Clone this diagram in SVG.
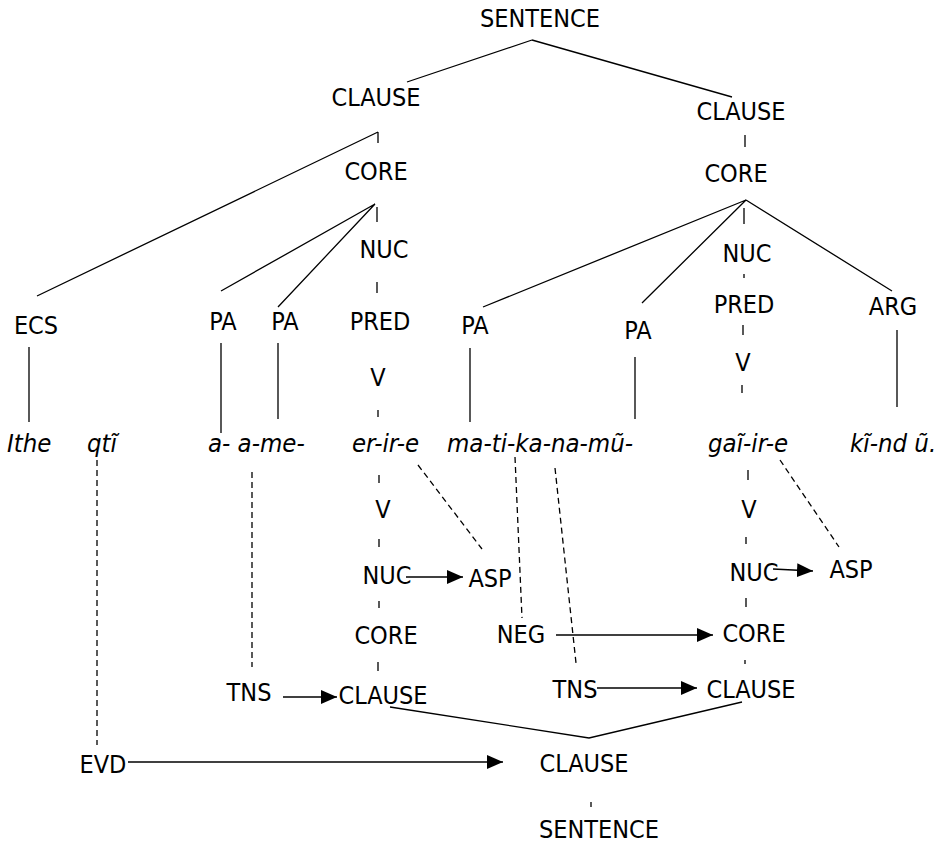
<svg xmlns="http://www.w3.org/2000/svg" width="945" height="847" viewBox="0 0 945 847">
  <defs>
    <style>
      .lbl { font-family: "DejaVu Sans Condensed", "DejaVu Sans", sans-serif; font-size: 25px; fill: #000; text-anchor: middle; }
      .word { font-family: "DejaVu Sans Condensed", "DejaVu Sans", sans-serif; font-style: italic; font-size: 25.5px; fill: #000; }
      .edge { stroke: #000; stroke-width: 1.3; fill: none; }
      .dash { stroke: #000; stroke-width: 1.3; fill: none; stroke-dasharray: 6 4; }
      .arrow { stroke: #000; stroke-width: 1.3; fill: none; marker-end: url(#head); }
    </style>
    <marker id="head" markerUnits="userSpaceOnUse" markerWidth="17" markerHeight="14" refX="16" refY="7" orient="auto">
      <path d="M0,0 L16,7 L0,14 Z" fill="#000"/>
    </marker>
  </defs>
  <rect width="945" height="847" fill="#fff"/>

  <!-- tree edges, operator links and morpheme links -->
  <g id="connectors">
    <!-- upper sentence tree -->
    <path class="edge" d="M532,40 L407,82 M532,40 L732,97"/>
    <path class="edge" d="M378,132 L37,296 M378,132 V143"/>
    <path class="edge" d="M745,135 V147"/>
    <path class="edge" d="M375,204 L221,291 M375,204 L278,307 M377,207 V222"/>
    <path class="edge" d="M377,282 V293"/>
    <path class="edge" d="M746,200 L483,307 M746,200 L642,303 M746,200 L892,291 M744,208 V224"/>
    <path class="edge" d="M744,274 V278 M743,325 V335 M742,385 V393"/>
    <path class="edge" d="M378,410 V417"/>
    <path class="edge" d="M29,347 V422 M221,343 V433 M278,343 V419"/>
    <path class="edge" d="M470,348 V422 M635,357 V419 M897,330 V407"/>

    <!-- morpheme links to operators -->
    <path class="dash" d="M418,465 L482,549"/>
    <path class="dash" d="M515,457 L522,618"/>
    <path class="dash" d="M555,468 L576,663"/>
    <path class="dash" d="M780,460 L839,547"/>
    <path class="dash" d="M252,472 V667"/>
    <path class="dash" d="M97,460 V745"/>

    <!-- operator projection, left verb -->
    <path class="edge" d="M379,475 V483 M379,539 V547 M379,601 V608 M378,662 V671"/>
    <!-- operator projection, right verb -->
    <path class="edge" d="M748,470 V480 M746,537 V544 M746,598 V607 M745,660 V664"/>
    <path class="edge" d="M591,802 V807"/>

    <!-- clause linkage -->
    <path class="edge" d="M390,707 L589,738 L742,702"/>

    <!-- operator arrows -->
    <path class="arrow" d="M406,577 H463"/>
    <path class="arrow" d="M773,569 L813,571"/>
    <path class="arrow" d="M556,635 H713"/>
    <path class="arrow" d="M283,697 H337"/>
    <path class="arrow" d="M597,688 H697"/>
    <path class="arrow" d="M128,762 H503"/>
  </g>

  <!-- constituent projection -->
  <g id="sentence-top"><text class="lbl" x="540" y="27">SENTENCE</text></g>
  <g id="clause-1"><text class="lbl" x="376" y="106">CLAUSE</text></g>
  <g id="clause-2"><text class="lbl" x="741" y="120">CLAUSE</text></g>
  <g id="core-1"><text class="lbl" x="376" y="180">CORE</text></g>
  <g id="core-2"><text class="lbl" x="736" y="182">CORE</text></g>
  <g id="nuc-1"><text class="lbl" x="384" y="258">NUC</text></g>
  <g id="nuc-2"><text class="lbl" x="747" y="262">NUC</text></g>
  <g id="ecs"><text class="lbl" x="36" y="334">ECS</text></g>
  <g id="pa-1"><text class="lbl" x="223" y="330">PA</text></g>
  <g id="pa-2"><text class="lbl" x="285" y="330">PA</text></g>
  <g id="pred-1"><text class="lbl" x="380" y="330">PRED</text></g>
  <g id="pa-3"><text class="lbl" x="475" y="334">PA</text></g>
  <g id="pa-4"><text class="lbl" x="638" y="339">PA</text></g>
  <g id="pred-2"><text class="lbl" x="744" y="313">PRED</text></g>
  <g id="arg"><text class="lbl" x="893" y="315">ARG</text></g>
  <g id="v-1"><text class="lbl" x="378" y="386">V</text></g>
  <g id="v-2"><text class="lbl" x="743" y="371">V</text></g>

  <!-- Gikuyu sentence -->
  <g id="words">
    <text class="word" x="7" y="452">Ithe</text>
    <text class="word" x="87" y="452">qtĩ</text>
    <text class="word" x="208" y="452">a- a-me-</text>
    <text class="word" x="352" y="452">er-ir-e</text>
    <text class="word" x="447" y="452">ma-ti-ka-na-mũ-</text>
    <text class="word" x="708" y="452">gaĩ-ir-e</text>
    <text class="word" x="850" y="452">kĩ-nd ũ.</text>
  </g>

  <!-- operator projection -->
  <g id="op-v-1"><text class="lbl" x="383" y="518">V</text></g>
  <g id="op-v-2"><text class="lbl" x="749" y="518">V</text></g>
  <g id="op-nuc-1"><text class="lbl" x="387" y="584">NUC</text></g>
  <g id="op-asp-1"><text class="lbl" x="490" y="587">ASP</text></g>
  <g id="op-nuc-2"><text class="lbl" x="754" y="581">NUC</text></g>
  <g id="op-asp-2"><text class="lbl" x="851" y="578">ASP</text></g>
  <g id="op-core-1"><text class="lbl" x="386" y="644">CORE</text></g>
  <g id="op-neg"><text class="lbl" x="521" y="643">NEG</text></g>
  <g id="op-core-2"><text class="lbl" x="754" y="642">CORE</text></g>
  <g id="op-tns-1"><text class="lbl" x="249" y="701">TNS</text></g>
  <g id="op-clause-1"><text class="lbl" x="383" y="704">CLAUSE</text></g>
  <g id="op-tns-2"><text class="lbl" x="575" y="698">TNS</text></g>
  <g id="op-clause-2"><text class="lbl" x="751" y="698">CLAUSE</text></g>
  <g id="op-evd"><text class="lbl" x="103" y="773">EVD</text></g>
  <g id="op-clause-3"><text class="lbl" x="584" y="772">CLAUSE</text></g>
  <g id="sentence-bottom"><text class="lbl" x="599" y="838">SENTENCE</text></g>
</svg>
